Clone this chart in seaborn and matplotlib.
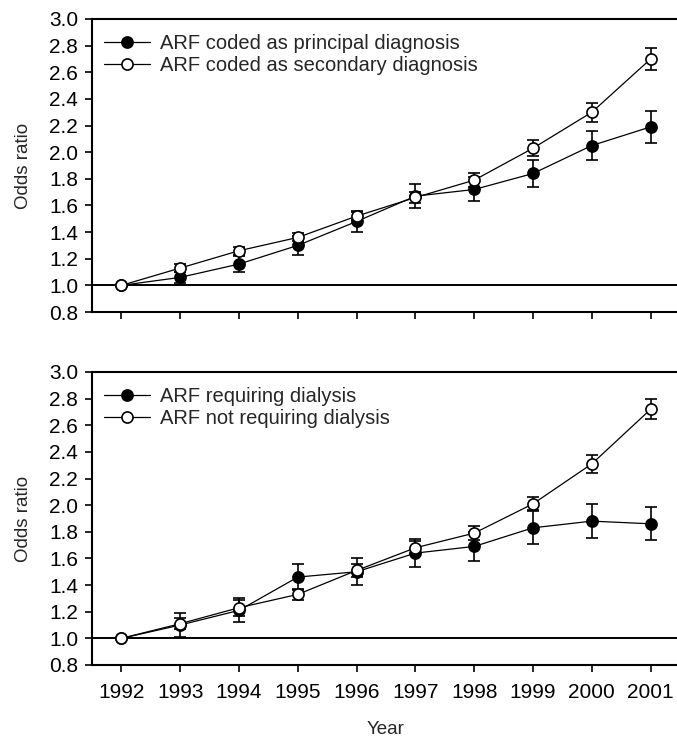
import matplotlib
matplotlib.use('Agg')
import matplotlib.pyplot as plt
import seaborn as sns

years = [1992, 1993, 1994, 1995, 1996, 1997, 1998, 1999, 2000, 2001]

# top panel
principal = [1.00, 1.06, 1.16, 1.30, 1.48, 1.67, 1.72, 1.84, 2.05, 2.19]
principal_err = [0.0, 0.04, 0.06, 0.07, 0.08, 0.09, 0.09, 0.10, 0.11, 0.12]
secondary = [1.00, 1.13, 1.26, 1.36, 1.52, 1.66, 1.79, 2.03, 2.30, 2.70]
secondary_err = [0.0, 0.03, 0.03, 0.03, 0.03, 0.04, 0.05, 0.06, 0.07, 0.08]

# bottom panel
dialysis = [1.00, 1.10, 1.21, 1.46, 1.50, 1.64, 1.69, 1.83, 1.88, 1.86]
dialysis_err = [0.0, 0.09, 0.09, 0.10, 0.10, 0.105, 0.11, 0.125, 0.125, 0.125]
no_dialysis = [1.00, 1.11, 1.23, 1.33, 1.51, 1.68, 1.79, 2.01, 2.31, 2.72]
no_dialysis_err = [0.0, 0.04, 0.06, 0.04, 0.05, 0.05, 0.05, 0.05, 0.07, 0.075]

yticks = [0.8, 1.0, 1.2, 1.4, 1.6, 1.8, 2.0, 2.2, 2.4, 2.6, 2.8, 3.0]

sns.set_style('ticks')
plt.rcParams['font.family'] = ['Liberation Sans', 'DejaVu Sans']


def draw_panel(ax, filled, filled_err, hollow, hollow_err, labels):
    ax.axhline(1.0, color='black', lw=1.4, zorder=1)
    for vals, err, face, lab in [(filled, filled_err, 'black', labels[0]),
                                 (hollow, hollow_err, 'white', labels[1])]:
        ax.errorbar(years, vals, yerr=err, fmt='none', ecolor='black',
                    elinewidth=1.2, capsize=4, capthick=1.2, zorder=2)
        sns.lineplot(x=years, y=vals, ax=ax, color='black', lw=0.9,
                     marker='o', markersize=8, markerfacecolor=face,
                     markeredgecolor='black', markeredgewidth=1.2,
                     label=lab, zorder=3)
    ax.set_xlim(1991.5, 2001.5)
    ax.set_ylim(0.8, 3.0)
    ax.set_yticks(yticks)
    ax.set_yticklabels([f"{t:.1f}" for t in yticks])
    ax.set_xticks(years)
    for s in ['left', 'bottom', 'top']:
        ax.spines[s].set_linewidth(1.5)
        ax.spines[s].set_color('black')
    ax.spines['right'].set_visible(False)
    ax.tick_params(axis='both', direction='out', length=5, width=1.2,
                   labelsize=15, colors='black')
    ax.tick_params(axis='y', pad=5)
    ax.tick_params(axis='x', pad=8)
    ax.set_ylabel("Odds ratio", fontsize=13.5, labelpad=12)
    ax.legend(loc='upper left', frameon=False, fontsize=14.5,
              handlelength=2.3, handletextpad=0.5, labelspacing=0.15,
              borderaxespad=0.4, bbox_to_anchor=(-0.007, 1.003))


fig = plt.figure(figsize=(6.77, 7.42), dpi=100)
ax1 = fig.add_axes([0.1359, 0.5795, 0.8686, 0.3949])
ax2 = fig.add_axes([0.1359, 0.1038, 0.8686, 0.3949])

draw_panel(ax1, principal, principal_err, secondary, secondary_err,
           ["ARF coded as principal diagnosis", "ARF coded as secondary diagnosis"])
ax1.set_xticklabels([])
ax1.set_xlabel("")

draw_panel(ax2, dialysis, dialysis_err, no_dialysis, no_dialysis_err,
           ["ARF requiring dialysis", "ARF not requiring dialysis"])
ax2.set_xticklabels([str(y) for y in years])
ax2.set_xlabel("Year", fontsize=13.5, labelpad=14)

plt.savefig("out.png", dpi=100)
plt.close()
